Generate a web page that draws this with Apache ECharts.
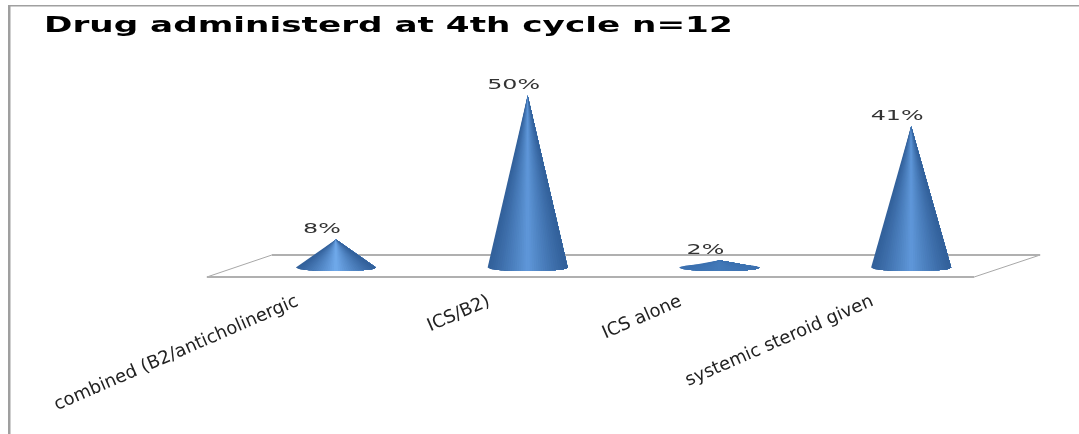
<!DOCTYPE html>
<html>
<head>
<meta charset="utf-8">
<style>html,body{margin:0;padding:0;background:#fff}#chart{width:1079px;height:434px}</style>
<script src="https://cdn.jsdelivr.net/npm/echarts@6/dist/echarts.min.js"></script>
</head>
<body>
<div id="chart"></div>
<script>
const chartTitle = 'Drug administerd at 4th cycle n=12';
const categories = ['combined (B2/anticholinergic', 'ICS/B2)', 'ICS alone', 'systemic steroid given'];
const shares = [8, 50, 2, 41];

const chart = echarts.init(document.getElementById('chart'), null, { renderer: 'canvas' });

// Perspective floor under the cones, placed relative to the first and last category.
function renderFloor(params, api) {
  const left = api.coord([0, 0]);
  const right = api.coord([categories.length - 1, 0]);
  const frontY = left[1] + 10, backY = left[1] - 12;
  const fl = left[0] - 129, fr = right[0] + 63, bl = left[0] - 64, br = right[0] + 129;
  const sides = { stroke: '#a8a8a8', lineWidth: 1, fill: null };
  const edges = { stroke: '#b0b0b0', lineWidth: 2, fill: null };
  return {
    type: 'group',
    children: [
      { type: 'line', shape: { x1: fl, y1: frontY, x2: bl, y2: backY }, style: sides },
      { type: 'line', shape: { x1: fr, y1: frontY, x2: br, y2: backY }, style: sides },
      { type: 'line', shape: { x1: bl, y1: backY, x2: br, y2: backY }, style: edges },
      { type: 'line', shape: { x1: fl, y1: frontY, x2: fr, y2: frontY }, style: edges }
    ]
  };
}

function mix(a, b, t) {
  const ch = (s, i) => parseInt(s.substr(1 + i * 2, 2), 16);
  const out = [0, 1, 2].map(i => Math.round(ch(a, i) + (ch(b, i) - ch(a, i)) * t));
  return 'rgb(' + out.join(',') + ')';
}

// One cone: shaded wedges fanned out from the apex over an elliptical foot, so the
// shading narrows toward the tip. Each wedge runs to the right rim and is painted
// over by the next one, which leaves no seams. A very flat cone also shows the top
// of its foot as a lens. The value label sits above the apex.
function renderCone(params, api) {
  const value = api.value(1);
  const apex = api.coord([api.value(0), value]);
  const foot = api.coord([api.value(0), 0]);
  const hw = 40, ry = 3.6, slices = 36;
  const cx = foot[0], cy = foot[1] + 0.5;
  const rim = value < 5 ? '#3c71b0' : '#32609a';
  const bright = value < 5 ? '#437ab9' : value < 20 ? '#70aaec' : '#5f98da';
  const rimPoint = u => [cx + u * hw, cy + ry * Math.sqrt(Math.max(0, 1 - u * u))];
  const children = [];
  if (value < 5) {
    children.push({
      type: 'ellipse',
      shape: { cx: cx, cy: cy, rx: hw, ry: ry },
      style: { fill: rim }
    });
  }
  for (let i = 0; i < slices; i++) {
    const points = [[apex[0], apex[1]]];
    for (let j = i; j <= slices; j++) {
      points.push(rimPoint(-1 + 2 * j / slices));
    }
    const mid = -1 + 2 * (i + 0.5) / slices;
    children.push({
      type: 'polygon',
      shape: { points: points },
      style: { fill: mix(rim, bright, Math.pow(1 - Math.abs(mid), 1.2)) }
    });
  }
  children.push({
    type: 'text',
    x: apex[0] - 14, y: apex[1] - 3,
    scaleX: 1.7,
    style: {
      text: value + '%',
      font: '14px "DejaVu Sans"',
      fill: '#333',
      align: 'center',
      verticalAlign: 'bottom'
    }
  });
  return { type: 'group', children: children };
}

chart.setOption({
  animation: false,
  backgroundColor: '#fff',
  grid: { left: 240, right: 72, top: 20, height: 247 },
  xAxis: {
    type: 'category',
    data: categories,
    axisLine: { show: false },
    axisTick: { show: false },
    axisLabel: {
      interval: 0,
      rotate: 23.5,
      margin: 17,
      padding: [0, 42, 0, 0],
      color: '#222',
      fontFamily: 'DejaVu Sans',
      fontSize: 18
    }
  },
  yAxis: { type: 'value', min: 0, max: 72, show: false, splitLine: { show: false } },
  graphic: [
    { type: 'rect', z: 0, shape: { x: 8, y: 5, width: 2.5, height: 429 }, style: { fill: '#9f9f9f' } },
    { type: 'rect', z: 0, shape: { x: 8, y: 5, width: 1071, height: 1.6 }, style: { fill: '#a0a0a0' } },
    {
      type: 'text', z: 5, x: 44, y: 16, scaleX: 1.63,
      style: { text: chartTitle, font: 'bold 21px "DejaVu Sans"', fill: '#000' }
    }
  ],
  series: [
    { type: 'custom', silent: true, z: 1, renderItem: renderFloor, data: [[0, 0]], encode: { x: 0, y: 1 } },
    {
      type: 'custom', silent: true, z: 2, renderItem: renderCone,
      data: shares.map((v, i) => [i, v]), encode: { x: 0, y: 1 }
    }
  ]
});
</script>
</body>
</html>
